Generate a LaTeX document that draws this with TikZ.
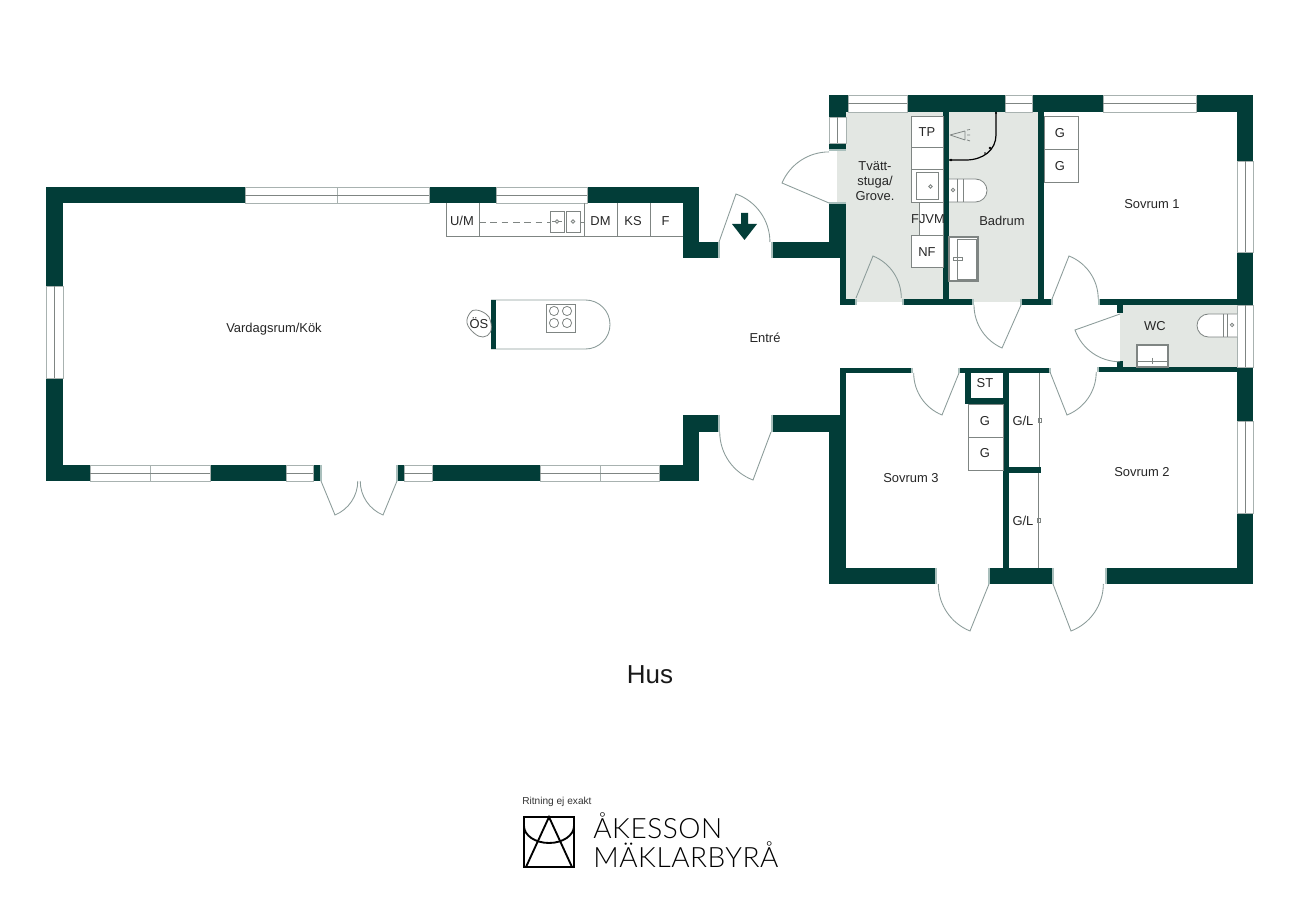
\documentclass[tikz,border=0pt]{standalone}
\usepackage{fontspec}
\setmainfont{Liberation Sans}
\newfontfamily\logofont[LetterSpace=2]{Lato Light}
\definecolor{wallc}{HTML}{023D38}
\definecolor{roomc}{HTML}{E3E7E3}
\definecolor{linec}{HTML}{8C9C9A}
\definecolor{fixc}{HTML}{7F8583}
\definecolor{winc}{HTML}{A8B2B0}
\definecolor{jambc}{HTML}{A9BFBC}
\tikzset{
  wallf/.style={fill=wallc,draw=none},
  roomf/.style={fill=roomc,draw=none},
  doorl/.style={draw=linec,line width=0.65pt},
  fixt/.style={draw=fixc,line width=0.6pt},
  winl/.style={draw=winc,line width=0.6pt,fill=white},
  lab/.style={inner sep=0pt,font=\fontsize{9.7}{11.5}\selectfont,text=black!85,align=center},
}
\newcommand{\wl}[4]{\fill[wallf] (#1,#2) rectangle (#3,#4);}
% window: x1 x2 y1 y2
\newcommand{\hwin}[4]{\draw[winl] (#1,#3) rectangle (#2,#4); \draw[fixc,line width=0.6pt] (#1,{(#3+#4)/2}) -- (#2,{(#3+#4)/2});}
\newcommand{\vwin}[4]{\draw[winl] (#1,#3) rectangle (#2,#4); \draw[fixc,line width=0.6pt] ({(#1+#2)/2},#3) -- ({(#1+#2)/2},#4);}
% door: hinge, tip, jamb
\newcommand{\door}[6]{%
  \pgfmathsetmacro\dr{veclen(#3-#1,#4-#2)}%
  \pgfmathsetmacro\da{atan2(#4-#2,#3-#1)}%
  \pgfmathsetmacro\db{atan2(#6-#2,#5-#1)}%
  \pgfmathsetmacro\dd{mod(\db-\da+540,360)-180}%
  \draw[doorl] (#1,#2) -- (#3,#4) arc[start angle=\da,delta angle=\dd,radius=\dr];}
\begin{document}
\begin{tikzpicture}[x=0.75pt,y=-0.75pt]
\useasboundingbox (0,0) rectangle (1300,919);
\fill[white] (0,0) rectangle (1300,919);
% shaded rooms
\fill[roomf] (846,112) rectangle (1038,302);
\fill[roomf] (837,150) rectangle (846,203);
\fill[roomf] (1120,305) rectangle (1237,367);

% main building walls
\wl{46}{187}{245}{203}
\wl{429}{187}{496}{203}
\wl{587}{187}{699}{203}
\wl{46}{187}{63}{286}
\wl{46}{378}{63}{481}
\wl{46}{465}{90}{481}
\wl{210}{465}{286}{481}
\wl{313}{465}{321}{481}
\wl{397}{465}{404}{481}
\wl{432}{465}{540}{481}
\wl{659}{465}{699}{481}
\wl{683}{187}{699}{258}
\wl{683}{242}{719}{258}
\wl{683}{415}{699}{481}
\wl{683}{415}{719}{432}
\wl{772}{242}{846}{258}
\wl{772}{415}{846}{432}
% east wing
\wl{829}{95}{848}{112}
\wl{907}{95}{1005}{112}
\wl{1032}{95}{1103}{112}
\wl{1196}{95}{1253}{112}
\wl{829}{95}{846}{117}
\wl{829}{143}{846}{150}
\wl{829}{203}{846}{258}
\wl{840}{258}{846}{305}
\wl{840}{299}{856}{305}
\wl{903}{299}{973}{305}
\wl{1021}{299}{1052}{305}
\wl{1099}{299}{1237}{305}
\wl{943}{112}{949}{305}
\wl{1038}{112}{1044}{305}
\wl{1237}{95}{1253}{161}
\wl{1237}{252}{1253}{305}
\wl{1237}{367}{1253}{421}
\wl{1237}{513}{1253}{584}
\wl{829}{568}{936}{584}
\wl{989}{568}{1053}{584}
\wl{1106}{568}{1253}{584}
\wl{829}{415}{846}{584}
\wl{840}{368}{846}{415}
\wl{840}{368}{912}{373}
\wl{959}{368}{1050}{373}
\wl{1098}{367}{1237}{372}
\wl{965}{368}{971}{404}
\wl{965}{398}{1009}{404}
\wl{1003}{368}{1009}{568}
\wl{1009}{467}{1041}{473}
\wl{1117}{304}{1123}{313}
\wl{1117}{361}{1123}{367}

% windows
\hwin{245}{337}{187}{203}
\hwin{337}{429}{187}{203}
\hwin{496}{587}{187}{203}
\vwin{46}{63}{286}{378}
\hwin{90}{150}{465}{481}
\hwin{150}{210}{465}{481}
\hwin{286}{313}{465}{481}
\hwin{404}{432}{465}{481}
\hwin{540}{600}{465}{481}
\hwin{600}{659}{465}{481}
\hwin{848}{907}{95}{112}
\hwin{1005}{1032}{95}{112}
\hwin{1103}{1196}{95}{112}
\vwin{829}{846}{117}{143}
\vwin{1237}{1253}{161}{252}
\vwin{1237}{1253}{305}{367}
\vwin{1237}{1253}{421}{513}

% door jambs
\foreach \xa/\ya/\xb/\yb in {321/465/321/481,397/465/397/481,719/242/719/258,772/242/772/258,719/415/719/432,772/415/772/432,856/299/856/305,903/299/903/305,973/299/973/305,1021/299/1021/305,1052/299/1052/305,1099/299/1099/305,912/368/912/373,959/368/959/373,1050/368/1050/373,1098/367/1098/372,936/568/936/584,989/568/989/584,1053/568/1053/584,1106/568/1106/584}
  \draw[jambc,line width=0.8pt] (\xa,\ya) -- (\xb,\yb);
\draw[jambc,line width=0.8pt] (829,150) -- (846,150) (829,203) -- (846,203);

% doors
\door{321}{481}{335}{515}{358}{481}
\door{397}{481}{383}{515}{358}{481}
\door{719}{242}{736}{194}{772}{242}
\door{771}{432}{753}{480}{719}{432}
\door{829}{203}{782}{183}{829}{150}
\door{856}{298}{873}{256}{903}{298}
\door{1021}{305}{1002}{348}{973}{305}
\door{1052}{299}{1069}{256}{1099}{299}
\door{1120}{314}{1075}{330}{1120}{360}
\door{1050}{372}{1067}{415}{1098}{372}
\door{959}{373}{942}{415}{912}{373}
\door{989}{584}{970}{631}{936}{584}
\door{1053}{584}{1071}{631}{1106}{584}

% entrance arrow
\fill[wallf] (741,213) -- (748,213) -- (748,224) -- (757,224) -- (744.5,240) -- (732,224) -- (741,224) -- cycle;

% kitchen
\draw[fixt] (446,203) -- (446,236) -- (683,236);
\foreach \x in {479,584,617,650} \draw[fixt] (\x,203) -- (\x,236);
\draw[fixt,dashed,dash pattern=on 5pt off 3.5pt] (479,222) -- (584,222);
\draw[fixt,fill=white] (550,211) rectangle (564,232);
\draw[fixt,fill=white] (566,211) rectangle (580,232);
\draw[fixt] (557,221.5) circle[radius=1.7] (573,221.5) circle[radius=1.7];
\draw[fixt] (552,221.5) -- (555,221.5) (559,221.5) -- (562,221.5);
\node[lab] (um) at (462,221) {U/M};
\node[lab] (dm) at (600.5,221) {DM};
\node[lab] (ks) at (633,221) {KS};
\node[lab] (f) at (665.5,221) {F};

% island
\draw[doorl] (491,300) -- (585.5,300) arc[start angle=-90,delta angle=180,radius=24.5] -- (491,349);
\fill[wallf] (491,300) rectangle (496,349);
\draw[fixt] (546,304) rectangle (575,332);
\foreach \x/\y in {554/311,567/311,554/323,567/323} \draw[fixt] (\x,\y) circle[radius=4.6];
\draw[fixt] plot[smooth cycle,tension=0.7] coordinates {(476,310) (486,314) (490.5,321) (490.5,332) (483,337) (474,333) (467,323) (470,313)};
\node[lab] (os) at (479,323.5) {ÖS};

% laundry fixtures
\draw[fixt,fill=white] (911,116) rectangle (943,147);
\draw[fixt,fill=white] (911,147) rectangle (943,169);
\draw[fixt,fill=white] (911,169) rectangle (943,202);
\draw[fixt] (916,172) rectangle (938,199);
\draw[fixt] (930.5,186.5) circle[radius=1.7];
\draw[fixt,fill=white] (919,202) rectangle (943,235);
\draw[fixt,fill=white] (911,235) rectangle (943,267);
\node[lab] (tp) at (927,132) {TP};
\node[lab] (nf) at (927,252) {NF};
\node[lab] (fjvm) at (928,219) {FJVM};
\node[lab] (tvatt) at (875,181) {Tvätt-\\stuga/\\Grove.};

% bathroom fixtures
\draw[fixt,fill=white] (949,179) -- (975.5,179) arc[start angle=-90,delta angle=180,radius=11.5] -- (949,202);
\draw[fixt] (957,179) -- (957,202) (963,179) -- (963,202);
\draw[fixt] (953,190) circle[radius=1.7];
\draw[fixt,fill=white,line width=0.8pt] (949,237) rectangle (978,281);
\draw[fixt] (957,239) rectangle (976,279);
\draw[fixt] (953,257) rectangle (962,260);
\draw[fixt] (950,135) -- (965,131) (950,135) -- (965,140) (965,131) -- (965,140);
\draw[fixt] (967,130) -- (970,129.5) (967,135) -- (970,135) (967,140) -- (970,141);
\draw[black,line width=0.9pt] (996,112) -- (996,135) .. controls (996,150) and (983,160) .. (966,160) -- (949,160);
\fill[black] (996,113) circle[radius=1.2] (990,148) circle[radius=1.4] (951,160) circle[radius=1.4] (985,153) circle[radius=0.9];
\node[lab] (bad) at (1002,221) {Badrum};

% bedroom 1 wardrobes
\draw[fixt,fill=white] (1044,116) rectangle (1078,149);
\draw[fixt,fill=white] (1044,149) rectangle (1078,182);
\node[lab] (g1) at (1060,133) {G};
\node[lab] (g2) at (1060,166) {G};

% WC fixtures
\draw[fixt,fill=white] (1237,314) -- (1208.5,314) arc[start angle=-90,delta angle=-180,radius=11.5] -- (1237,337);
\draw[fixt] (1223,314) -- (1223,337) (1227,314) -- (1227,337);
\draw[fixt] (1232,325) circle[radius=1.7];
\draw[fixt,fill=white,line width=0.8pt] (1137,345) rectangle (1168,367);
\draw[fixt] (1137,361) -- (1168,361);
\draw[fixt] (1152,358) -- (1152,364);
\node[lab] (wc) at (1155,326) {WC};

% bedroom 3 storage
\draw[fixt,fill=white] (968,404) rectangle (1003,437);
\draw[fixt,fill=white] (968,437) rectangle (1003,470);
\node[lab] (st) at (985,383) {ST};
\node[lab] (g3) at (985,421) {G};
\node[lab] (g4) at (985,453) {G};

% sliding doors
\draw[fixc,line width=0.9pt] (1039.5,373) -- (1039.5,467);
\draw[fixc,line width=0.7pt] (1038,473) -- (1038,568);
\draw[fixt] (1038,418) rectangle (1041,422);
\draw[fixt] (1037,518) rectangle (1040,522);
\node[lab] (gl1) at (1023,421) {G/L};
\node[lab] (gl2) at (1023,520.5) {G/L};

% room labels
\node[lab] (vard) at (274,329.5) {Vardagsrum/Kök};
\node[lab] (entre) at (765,337.5) {Entré};
\node[lab] (s1) at (1152,204) {Sovrum 1};
\node[lab] (s2) at (1142,472) {Sovrum 2};
\node[lab] (s3) at (911,478) {Sovrum 3};
\node[inner sep=0pt,font=\fontsize{19.5}{22}\selectfont,text=black!90] (hus) at (650,675) {Hus};

% logo
\node[inner sep=0pt,anchor=west,font=\fontsize{7.6}{9}\selectfont,text=black!80] (ritn) at (522,802) {Ritning ej exakt};
\draw[black,line width=1.4pt,line join=miter] (524,817) rectangle (574,867);
\draw[black,line width=1.4pt] (526,867) -- (549,817) -- (572,867);
\draw[black,line width=1.4pt] (524,826) arc[start angle=180,delta angle=-180,x radius=25,y radius=17];
\node[inner sep=0pt,anchor=base west,font=\fontsize{21}{24}\logofont,text=black] (ak) at (593,838) {ÅKESSON};
\node[inner sep=0pt,anchor=base west,font=\fontsize{21}{24}\logofont,text=black] (ma) at (593,867) {MÄKLARBYRÅ};
\end{tikzpicture}
\end{document}
